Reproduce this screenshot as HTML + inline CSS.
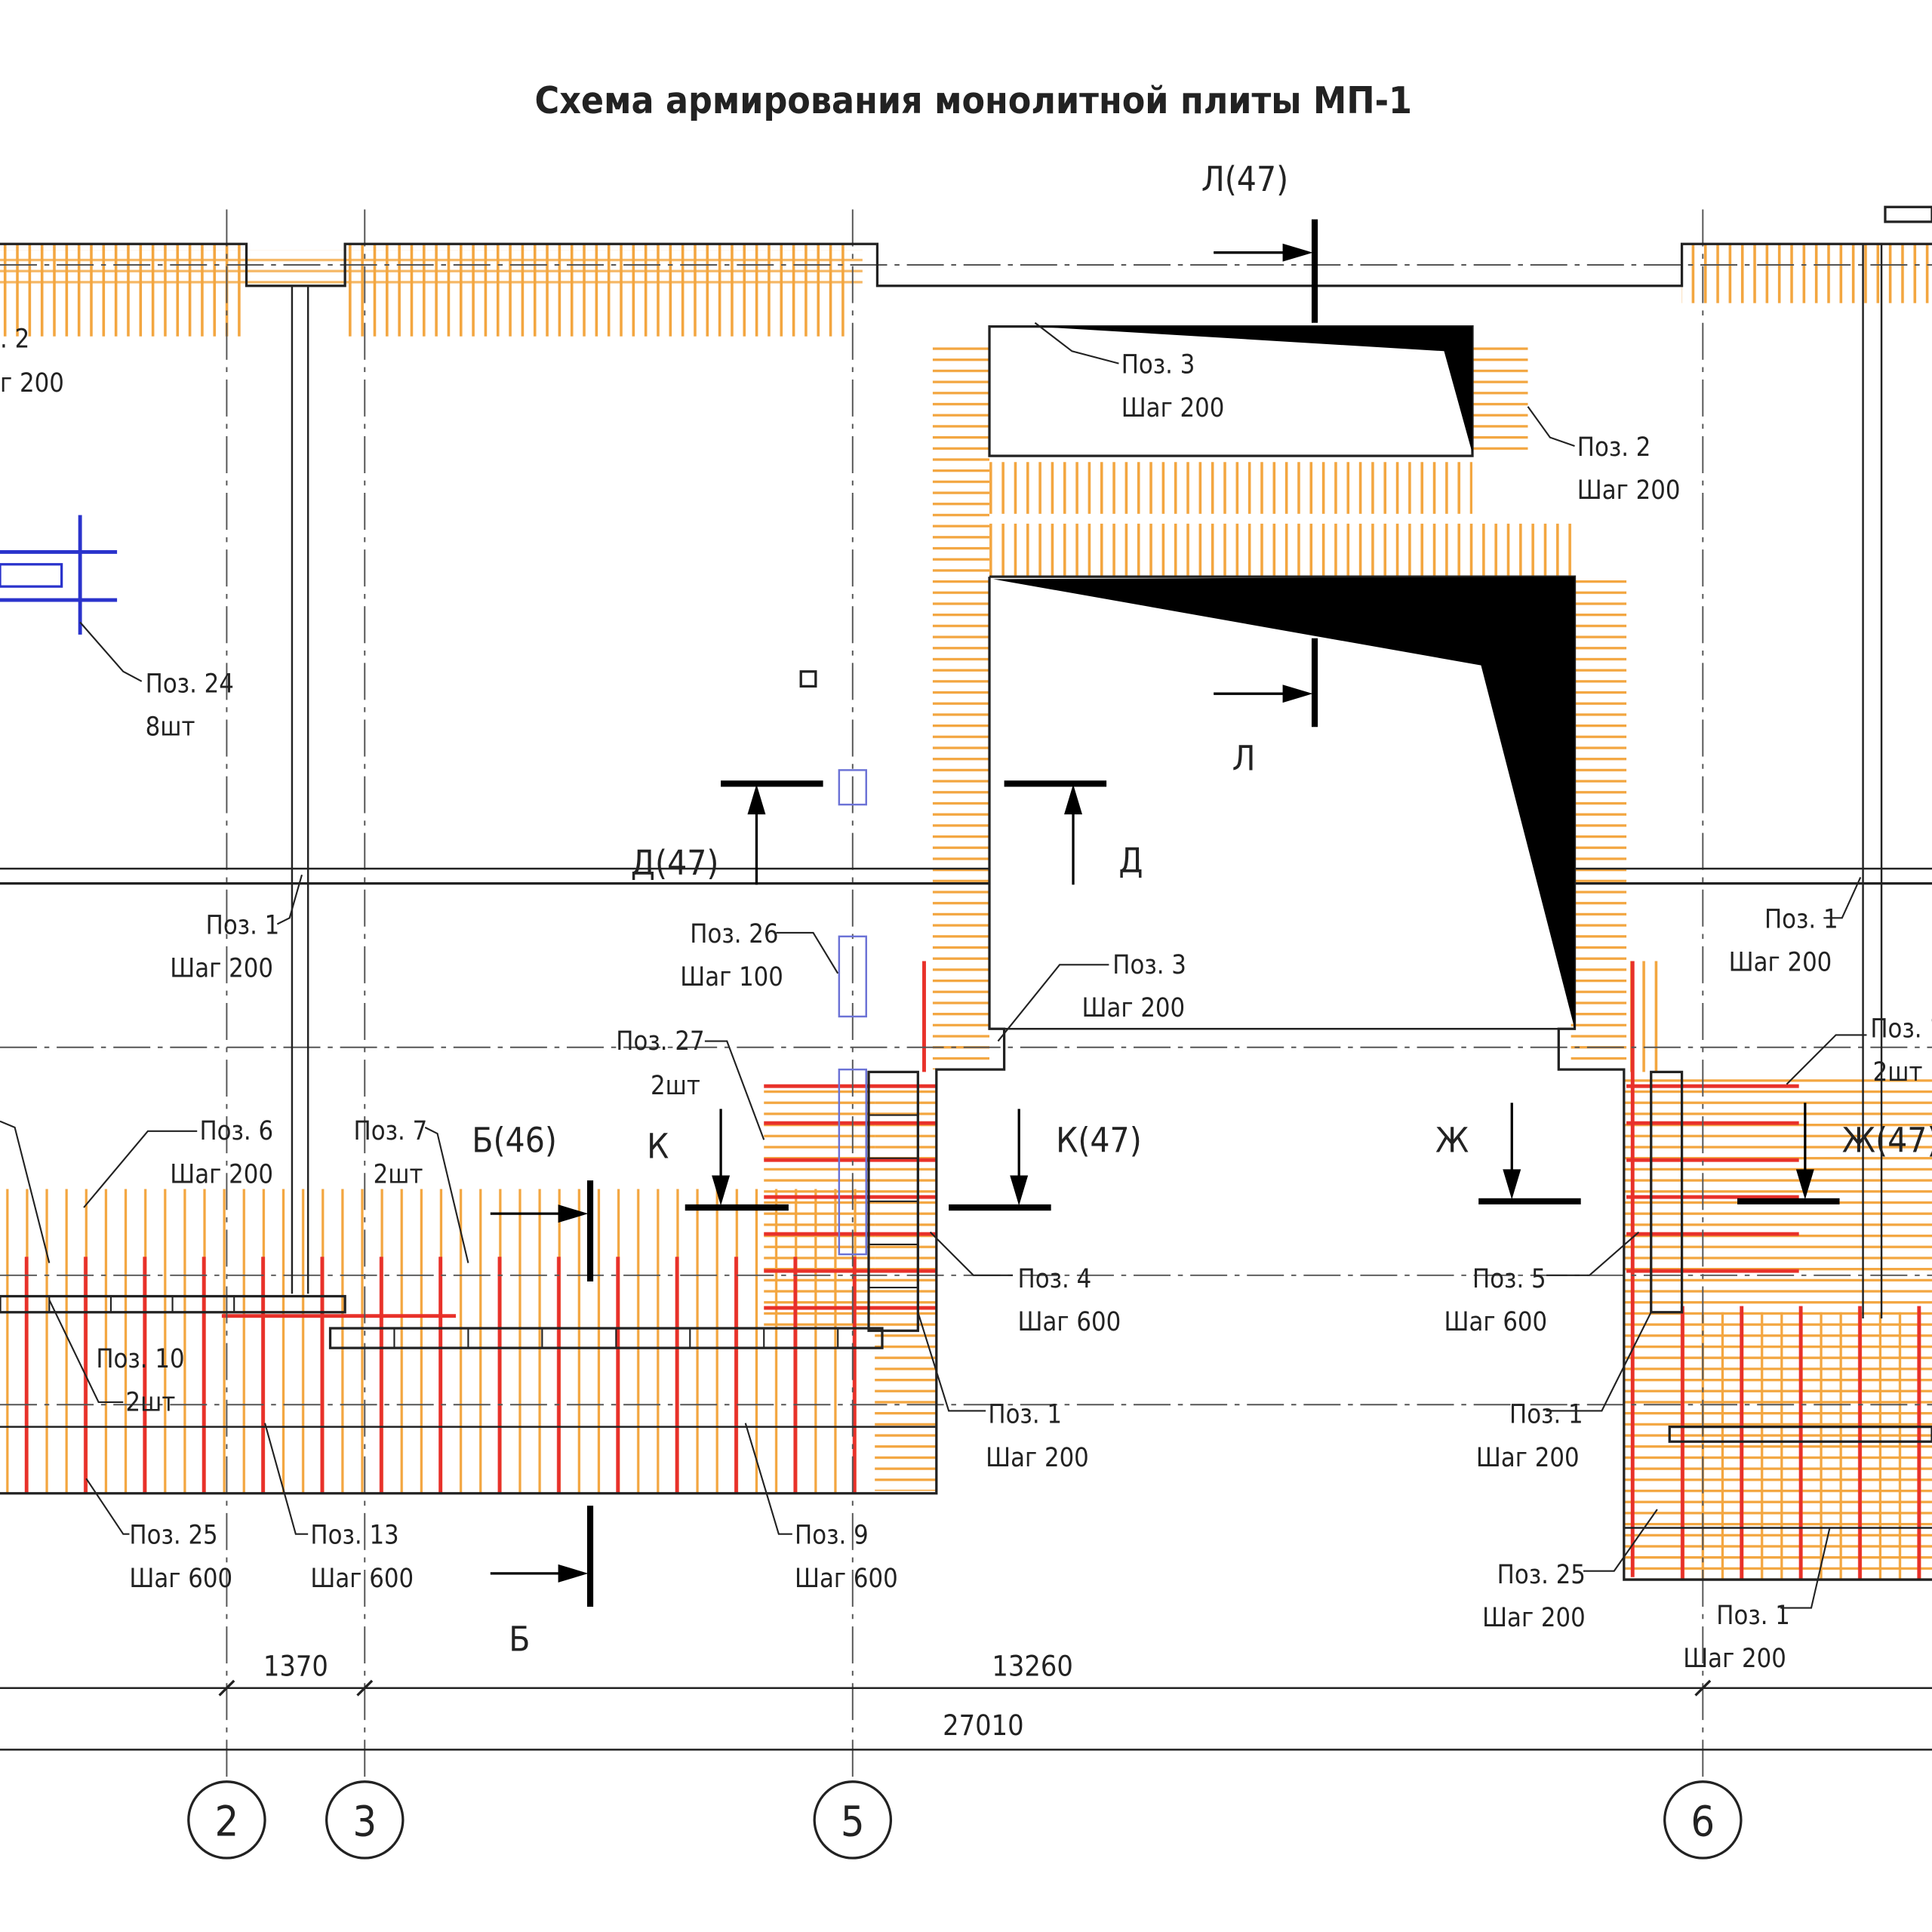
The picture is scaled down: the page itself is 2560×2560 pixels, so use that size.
<!DOCTYPE html>
<html><head><meta charset="utf-8"><style>
html,body{margin:0;padding:0;background:#fff;}
svg{display:block;}
text{font-family:"DejaVu Sans Condensed","Liberation Sans Narrow","Liberation Sans",sans-serif;fill:#222;}
</style></head><body>
<svg width="2560" height="2560" viewBox="0 0 1568 1568" xmlns="http://www.w3.org/2000/svg">
<defs>
<pattern id="ov" width="10" height="10" patternUnits="userSpaceOnUse"><rect x="3" y="0" width="2.2" height="10" fill="#f3a640"/></pattern>
<pattern id="ovs" width="16" height="10" patternUnits="userSpaceOnUse"><rect x="5" y="0" width="2" height="10" fill="#f3a640"/></pattern>
<pattern id="oh" width="10" height="9" patternUnits="userSpaceOnUse"><rect x="0" y="3" width="10" height="2" fill="#f3a640"/></pattern>
<pattern id="rv" width="48" height="10" patternUnits="userSpaceOnUse"><rect x="20" y="0" width="3" height="10" fill="#e8312a"/></pattern>
<pattern id="rh" width="10" height="30" patternUnits="userSpaceOnUse"><rect x="0" y="10" width="10" height="3" fill="#e8312a"/></pattern>
</defs>
<rect width="1568" height="1568" fill="#fff"/>
<text x="790" y="92" font-size="30" font-weight="bold" text-anchor="middle" fill="#222" textLength="712" lengthAdjust="spacingAndGlyphs">Схема армирования монолитной плиты МП-1</text>

<g>
<rect x="0" y="198" width="200" height="75" fill="url(#ov)"/>
<rect x="280" y="198" width="412" height="75" fill="url(#ov)"/>
<rect x="1365" y="198" width="203" height="48" fill="url(#ov)"/>
<rect x="0" y="203" width="700" height="30" fill="url(#oh)" opacity="0.8"/>
<rect x="757" y="278" width="46" height="590" fill="url(#oh)"/>
<rect x="1195" y="278" width="45" height="90" fill="url(#oh)"/>
<rect x="1275" y="470" width="45" height="395" fill="url(#oh)"/>
<rect x="803" y="375" width="392" height="42" fill="url(#ov)"/>
<rect x="803" y="425" width="475" height="42" fill="url(#ov)"/>
<rect x="0" y="965" width="700" height="247" fill="url(#ovs)"/>
<rect x="620" y="880" width="90" height="200" fill="url(#oh)"/>
<rect x="710" y="880" width="50" height="330" fill="url(#oh)"/>
<rect x="1318" y="870" width="250" height="412" fill="url(#oh)"/>
<rect x="1318" y="780" width="30" height="90" fill="url(#ov)"/>
<rect x="1360" y="1065" width="208" height="217" fill="url(#ovs)"/>
</g>
<g>
<rect x="20" y="1020" width="680" height="192" fill="url(#rv)"/>
<rect x="620" y="875" width="140" height="210" fill="url(#rh)"/>
<rect x="1320" y="870" width="140" height="170" fill="url(#rh)"/>
<rect x="1320" y="1060" width="248" height="222" fill="url(#rv)"/>
<line x1="1325" y1="780" x2="1325" y2="1280" stroke="#e8312a" stroke-width="3"/>
<line x1="750" y1="780" x2="750" y2="870" stroke="#e8312a" stroke-width="3"/>
<line x1="180" y1="1068" x2="370" y2="1068" stroke="#e8312a" stroke-width="3"/>
</g>

<g stroke="#555" stroke-width="1.2" stroke-dasharray="30,6,4,6" fill="none">
<line x1="184" y1="170" x2="184" y2="1445"/>
<line x1="296" y1="170" x2="296" y2="1445"/>
<line x1="692" y1="170" x2="692" y2="1445"/>
<line x1="1382" y1="170" x2="1382" y2="1445"/>
<line x1="0" y1="215" x2="1568" y2="215"/>
<line x1="0" y1="850" x2="1568" y2="850"/>
<line x1="0" y1="1035" x2="1568" y2="1035"/>
<line x1="0" y1="1140" x2="1568" y2="1140"/>
</g>

<g stroke="#222" stroke-width="2" fill="none">
<polyline points="0,198 200,198 200,232 280,232 280,198 712,198 712,232 1365,232 1365,198 1568,198"/>
<line x1="0" y1="705" x2="803" y2="705" stroke-width="1.5"/>
<line x1="0" y1="717" x2="803" y2="717"/>
<line x1="1275" y1="705" x2="1568" y2="705" stroke-width="1.5"/>
<line x1="1275" y1="717" x2="1568" y2="717"/>
<line x1="237" y1="232" x2="237" y2="1050" stroke-width="1.5"/>
<line x1="250" y1="232" x2="250" y2="1050" stroke-width="1.5"/>
<line x1="1512" y1="198" x2="1512" y2="1070" stroke-width="1.5"/>
<line x1="1527" y1="198" x2="1527" y2="1070" stroke-width="1.5"/>
<rect x="803" y="265" width="392" height="105"/>
<polyline points="803,468 1278,468 1278,835 1265,835 1265,868 1318,868 1318,1282 1568,1282"/>
<polyline points="803,468 803,835 815,835 815,868 760,868 760,1212 0,1212"/>
<line x1="815" y1="835" x2="1265" y2="835" stroke-width="1.5"/>
<line x1="0" y1="1158" x2="760" y2="1158" stroke-width="1.5"/>
<line x1="1318" y1="1240" x2="1568" y2="1240" stroke-width="1.5"/>
<rect x="0" y="1052" width="280" height="13"/>
<rect x="268" y="1078" width="448" height="16"/>
<rect x="705" y="870" width="40" height="210"/>
<rect x="1340" y="870" width="25" height="195"/>
<rect x="1355" y="1158" width="213" height="12"/>
<rect x="1530" y="168" width="38" height="12"/>
</g>
<g stroke="#222" stroke-width="1.3">
<line x1="320" y1="1078" x2="320" y2="1094"/><line x1="380" y1="1078" x2="380" y2="1094"/><line x1="440" y1="1078" x2="440" y2="1094"/><line x1="500" y1="1078" x2="500" y2="1094"/><line x1="560" y1="1078" x2="560" y2="1094"/><line x1="620" y1="1078" x2="620" y2="1094"/><line x1="680" y1="1078" x2="680" y2="1094"/>
<line x1="40" y1="1052" x2="40" y2="1065"/><line x1="90" y1="1052" x2="90" y2="1065"/><line x1="140" y1="1052" x2="140" y2="1065"/><line x1="190" y1="1052" x2="190" y2="1065"/>
<line x1="705" y1="905" x2="745" y2="905"/><line x1="705" y1="940" x2="745" y2="940"/><line x1="705" y1="975" x2="745" y2="975"/><line x1="705" y1="1010" x2="745" y2="1010"/><line x1="705" y1="1045" x2="745" y2="1045"/>
</g>
<polygon points="840,265 1195,265 1195,368 1172,285" fill="#000"/>
<polygon points="806,470 1278,468 1278,835 1202,540" fill="#000"/>

<g stroke="#2a33cc" stroke-width="3" fill="none">
<line x1="0" y1="448" x2="95" y2="448"/><line x1="0" y1="487" x2="95" y2="487"/>
<line x1="65" y1="418" x2="65" y2="515"/>
<rect x="0" y="458" width="50" height="18" stroke-width="2"/>
</g>
<g stroke="#6b72d6" stroke-width="1.5" fill="none">
<rect x="681" y="625" width="22" height="28"/><rect x="681" y="760" width="22" height="65"/><rect x="681" y="868" width="22" height="150"/>
</g>
<rect x="650" y="545" width="12" height="12" fill="none" stroke="#222" stroke-width="2"/>

<g stroke="#000" stroke-width="5">
<line x1="585" y1="636" x2="668" y2="636"/><line x1="815" y1="636" x2="898" y2="636"/>
<line x1="1067" y1="178" x2="1067" y2="262"/><line x1="1067" y1="518" x2="1067" y2="590"/>
<line x1="556" y1="980" x2="640" y2="980"/><line x1="770" y1="980" x2="853" y2="980"/>
<line x1="1200" y1="975" x2="1283" y2="975"/><line x1="1410" y1="975" x2="1493" y2="975"/>
<line x1="479" y1="958" x2="479" y2="1040"/><line x1="479" y1="1222" x2="479" y2="1304"/>
</g>
<g stroke="#000" stroke-width="2" fill="#000">
<line x1="614" y1="718" x2="614" y2="650"/><polygon points="614,640 608,660 620,660"/>
<line x1="871" y1="718" x2="871" y2="650"/><polygon points="871,640 865,660 877,660"/>
<line x1="985" y1="205" x2="1050" y2="205"/><polygon points="1062,205 1042,199 1042,211"/>
<line x1="985" y1="563" x2="1050" y2="563"/><polygon points="1062,563 1042,557 1042,569"/>
<line x1="585" y1="900" x2="585" y2="965"/><polygon points="585,975 579,955 591,955"/>
<line x1="827" y1="900" x2="827" y2="965"/><polygon points="827,975 821,955 833,955"/>
<line x1="1227" y1="895" x2="1227" y2="960"/><polygon points="1227,970 1221,950 1233,950"/>
<line x1="1465" y1="895" x2="1465" y2="960"/><polygon points="1465,970 1459,950 1471,950"/>
<line x1="398" y1="985" x2="462" y2="985"/><polygon points="474,985 454,979 454,991"/>
<line x1="398" y1="1277" x2="462" y2="1277"/><polygon points="474,1277 454,1271 454,1283"/>
</g>
<g font-size="28" fill="#111">
<text x="975" y="155">Л(47)</text><text x="1000" y="625">Л</text>
<text x="512" y="710">Д(47)</text><text x="908" y="708">Д</text>
<text x="525" y="940">К</text><text x="857" y="935">К(47)</text>
<text x="1165" y="935">Ж</text><text x="1495" y="935">Ж(47)</text>
<text x="383" y="935">Б(46)</text><text x="413" y="1340">Б</text>
</g>

<g stroke="#222" stroke-width="1.3" fill="none">
<polyline points="840,262 870,285 908,295"/><polyline points="1240,330 1258,355 1278,362"/>
<polyline points="65,505 100,545 115,553"/><polyline points="245,710 235,745 225,750"/>
<polyline points="680,790 660,757 630,757"/><polyline points="620,925 590,845 572,845"/>
<polyline points="810,845 860,783 900,783"/><polyline points="755,1000 790,1035 822,1035"/>
<polyline points="745,1065 770,1145 800,1145"/><polyline points="1330,1000 1290,1035 1255,1035"/>
<polyline points="1340,1065 1300,1145 1255,1145"/><polyline points="1510,712 1495,745 1480,745"/>
<polyline points="1450,880 1490,840 1515,840"/><polyline points="1345,1225 1310,1275 1285,1275"/>
<polyline points="1485,1240 1470,1305 1445,1305"/>
<polyline points="68,980 120,918 160,918"/><polyline points="380,1025 355,920 345,915"/>
<polyline points="70,1200 100,1245 105,1245"/><polyline points="215,1155 240,1245 250,1245"/>
<polyline points="605,1155 632,1245 643,1245"/><polyline points="40,1055 80,1138 100,1138"/>
<polyline points="0,910 12,915 40,1025"/>
</g>
<g font-size="21" fill="#222">
<text x="910" y="303">Поз. 3</text><text x="910" y="338">Шаг 200</text>
<text x="1280" y="370">Поз. 2</text><text x="1280" y="405">Шаг 200</text>
<text x="0" y="282">. 2</text><text x="0" y="318">г 200</text>
<text x="118" y="562">Поз. 24</text><text x="118" y="597">8шт</text>
<text x="167" y="758">Поз. 1</text><text x="138" y="793">Шаг 200</text>
<text x="560" y="765">Поз. 26</text><text x="552" y="800">Шаг 100</text>
<text x="500" y="852">Поз. 27</text><text x="528" y="888">2шт</text>
<text x="903" y="790">Поз. 3</text><text x="878" y="825">Шаг 200</text>
<text x="162" y="925">Поз. 6</text><text x="138" y="960">Шаг 200</text>
<text x="287" y="925">Поз. 7</text><text x="303" y="960">2шт</text>
<text x="826" y="1045">Поз. 4</text><text x="826" y="1080">Шаг 600</text>
<text x="1195" y="1045">Поз. 5</text><text x="1172" y="1080">Шаг 600</text>
<text x="78" y="1110">Поз. 10</text><text x="102" y="1145">2шт</text>
<text x="802" y="1155">Поз. 1</text><text x="800" y="1190">Шаг 200</text>
<text x="1225" y="1155">Поз. 1</text><text x="1198" y="1190">Шаг 200</text>
<text x="1432" y="753">Поз. 1</text><text x="1403" y="788">Шаг 200</text>
<text x="1518" y="842">Поз. 1</text><text x="1520" y="877">2шт</text>
<text x="105" y="1253">Поз. 25</text><text x="105" y="1288">Шаг 600</text>
<text x="252" y="1253">Поз. 13</text><text x="252" y="1288">Шаг 600</text>
<text x="645" y="1253">Поз. 9</text><text x="645" y="1288">Шаг 600</text>
<text x="1215" y="1285">Поз. 25</text><text x="1203" y="1320">Шаг 200</text>
<text x="1393" y="1318">Поз. 1</text><text x="1366" y="1353">Шаг 200</text>
</g>

<g stroke="#222" stroke-width="1.5">
<line x1="0" y1="1370" x2="1568" y2="1370"/>
<line x1="0" y1="1420" x2="1568" y2="1420"/>
<line x1="178" y1="1376" x2="190" y2="1364" stroke-width="2"/>
<line x1="290" y1="1376" x2="302" y2="1364" stroke-width="2"/>
<line x1="1376" y1="1376" x2="1388" y2="1364" stroke-width="2"/>
</g>
<g font-size="23" fill="#222" text-anchor="middle">
<text x="240" y="1360">1370</text><text x="838" y="1360">13260</text><text x="798" y="1408">27010</text>
</g>
<g stroke="#222" stroke-width="2" fill="#fff">
<circle cx="184" cy="1477" r="31"/><circle cx="296" cy="1477" r="31"/><circle cx="692" cy="1477" r="31"/><circle cx="1382" cy="1477" r="31"/>
</g>
<g font-size="34" text-anchor="middle" fill="#111">
<text x="184" y="1490">2</text><text x="296" y="1490">3</text><text x="692" y="1490">5</text><text x="1382" y="1490">6</text>
</g>
</svg>
</body></html>
